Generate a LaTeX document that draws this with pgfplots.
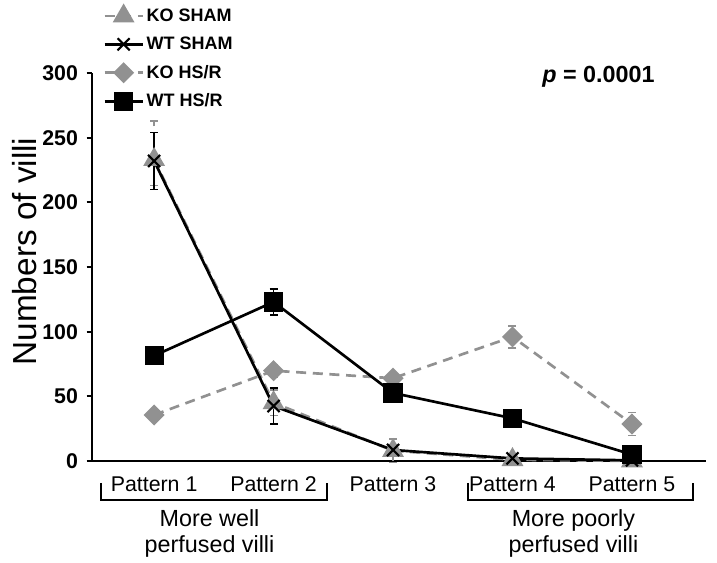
\documentclass[border=0pt]{standalone}
\usepackage{pgfplots}
\pgfplotsset{compat=1.18}
\usepackage{fontspec}
\setmainfont{Liberation Sans}
\definecolor{kogray}{RGB}{145,145,145}
\newcommand{\lgf}{\bfseries\fontsize{13.5}{15}\selectfont}
\begin{document}
\begin{tikzpicture}
\path[use as bounding box] (0,0) rectangle (537.75pt,422.25pt);
\begin{axis}[
  at={(69pt,76.5pt)}, anchor=south west,
  scale only axis, width=460.5pt, height=291pt,
  xmin=0.48, xmax=5.62, ymin=0, ymax=300,
  axis lines=left, axis line style={line width=2pt, -},
  clip=false,
  xtick={1,2,3,4,5},
  xticklabels={Pattern 1,Pattern 2,Pattern 3,Pattern 4,Pattern 5},
  x tick label style={font=\fontsize{16}{18}\selectfont, yshift=-4pt},
  major x tick style={draw=none},
  ytick={0,50,...,300},
  tick align=outside, major tick length=4pt,
  y tick style={line width=1.6pt, black},
  y tick label style={font=\bfseries\fontsize{16}{18}\selectfont, xshift=-3pt},
  /pgf/number format/assume math mode=true,
  ylabel={Numbers of villi},
  every axis y label/.style={at={(rel axis cs:-0.109,0.54)}, rotate=90, anchor=center, font=\fontsize{25}{27}\selectfont},
  legend style={at={(rel axis cs:0.018,1.173)}, anchor=north west, draw=none, fill=none,
    row sep=6.2pt, inner sep=0pt, nodes={font=\lgf}},
  legend cell align=left,
  legend image code/.code={\draw[mark repeat=2,mark phase=2] plot coordinates {(0cm,0cm) (0.5cm,0cm) (1cm,0cm)};},
  error bars/error bar style={line width=1.1pt},
  error bars/error mark options={rotate=90, mark size=3pt, line width=1.1pt},
]
% KO SHAM
\addplot[kogray, line width=2pt, dash pattern=on 7.5pt off 5pt, mark=triangle*, mark size=7.5pt,
  mark options={solid, fill=kogray, draw=kogray},
  error bars/.cd, y dir=both, y explicit]
  coordinates {(1,233) += (0,30) -= (0,20) (2,45) +- (0,10) (3,8) +- (0,9) (4,1) +- (0,1) (5,0) +- (0,1)};
\addlegendentry{\lgf KO SHAM}
% WT SHAM
\addplot[black, line width=2pt, mark=x, mark size=6.4pt,
  mark options={solid, line width=1.6pt},
  error bars/.cd, y dir=both, y explicit]
  coordinates {(1,232) +- (0,22) (2,42.5) +- (0,14) (3,8.5) +- (0,4) (4,2) +- (0,1) (5,0.5) +- (0,0.5)};
\addlegendentry{\lgf WT SHAM}
% KO HS/R
\addplot[kogray, line width=2pt, dash pattern=on 7.5pt off 5pt, mark=square*, mark size=4.6pt,
  mark options={solid, rotate=45, fill=kogray, draw=kogray},
  error bars/.cd, y dir=both, y explicit]
  coordinates {(1,35.6) +- (0,3) (2,69.8) +- (0,5) (3,64) +- (0,4) (4,96) +- (0,8.5) (5,28.6) +- (0,9)};
\addlegendentry{\lgf KO HS/R}
% WT HS/R
\addplot[black, line width=2pt, mark=square*, mark size=6.2pt,
  mark options={solid, fill=black},
  error bars/.cd, y dir=both, y explicit]
  coordinates {(1,81.4) +- (0,3) (2,123) +- (0,10) (3,52.6) +- (0,5) (4,33) +- (0,2) (5,5) +- (0,2)};
\addlegendentry{\lgf WT HS/R}
% p value
\node[anchor=base, font=\bfseries\fontsize{17.5}{19}\selectfont] at (axis cs:4.72,293) {\textit{p} = 0.0001};
% brackets
\draw[line width=1.5pt] (axis cs:0.556,-17) -- (axis cs:0.556,-30.2) -- (axis cs:2.448,-30.2) -- (axis cs:2.448,-17);
\draw[line width=1.5pt] (axis cs:3.628,-17) -- (axis cs:3.628,-30.2) -- (axis cs:5.51,-30.2) -- (axis cs:5.51,-17);
\node[align=center, font=\fontsize{17.5}{20}\selectfont] at (axis cs:1.464,-56) {More well\\perfused villi};
\node[align=center, font=\fontsize{17.5}{20}\selectfont] at (axis cs:4.51,-56) {More poorly\\perfused villi};
\end{axis}
\end{tikzpicture}
\end{document}
